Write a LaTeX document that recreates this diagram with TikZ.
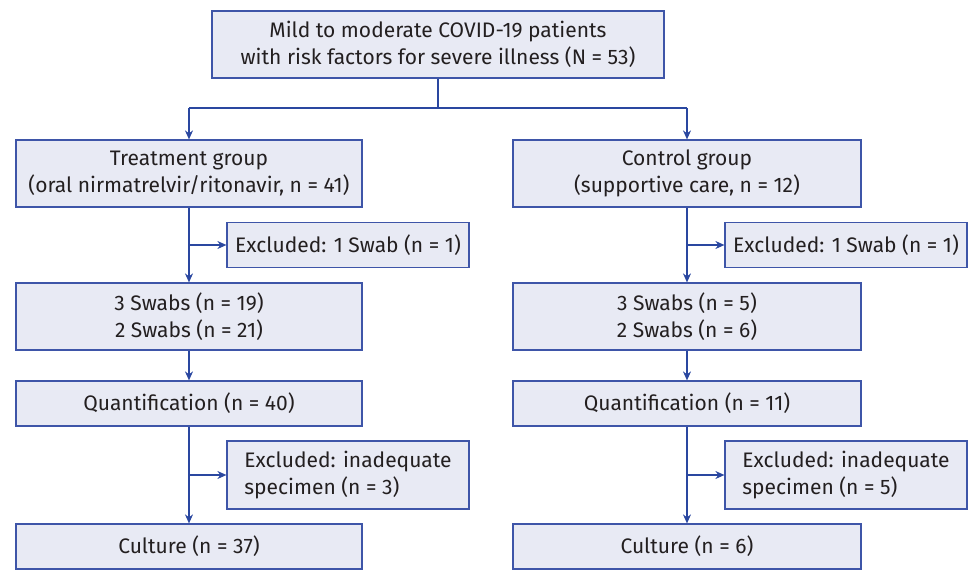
\documentclass[tikz,border=0pt]{standalone}
\usepackage{fontspec}
\setmainfont{Fira Sans}
\usetikzlibrary{arrows.meta}
\definecolor{boxfill}{HTML}{E8EAF4}
\definecolor{boxline}{HTML}{3E55A8}
\definecolor{arrline}{HTML}{2A47A0}
\definecolor{txt}{HTML}{231F20}
\tikzset{
  flowbox/.style={draw=boxline,fill=boxfill,line width=1.2pt,rectangle,align=center,text=txt,inner sep=0pt,
    font=\fontsize{21}{27}\selectfont},
  flowarr/.style={draw=arrline,line width=1.3pt,-{Stealth[length=9pt,width=8pt]}},
  flowline/.style={draw=arrline,line width=1.3pt}
}
\begin{document}
\begin{tikzpicture}[x=1pt,y=-1pt]
\useasboundingbox (0,0) rectangle (975,571);
\node[flowbox,minimum width=452pt,minimum height=67pt] (ALL) at (438,44.5) {Mild to moderate COVID-19 patients\\with risk factors for severe illness (N = 53)};
% treatment arm
\node[flowbox,minimum width=346pt,minimum height=67pt] (TRT) at (189,173.5) {Treatment group\\(oral nirmatrelvir/ritonavir, n = 41)};
\node[flowbox,minimum width=242pt,minimum height=45pt] (TEX1) at (348,245) {Excluded: 1 Swab (n = 1)};
\node[flowbox,minimum width=346pt,minimum height=67pt] (TSW) at (189,316.5) {3 Swabs (n = 19)\\2 Swabs (n = 21)};
\node[flowbox,minimum width=346pt,minimum height=45pt] (TQU) at (189,403.5) {Quantification (n = 40)};
\node[flowbox,minimum width=242pt,minimum height=68pt,align=left] (TEX2) at (348,475) {Excluded: inadequate\\specimen (n = 3)};
\node[flowbox,minimum width=346pt,minimum height=45pt] (TCU) at (189,546.5) {Culture (n = 37)};
% control arm
\node[flowbox,minimum width=348pt,minimum height=67pt] (CTL) at (687,173.5) {Control group\\(supportive care, n = 12)};
\node[flowbox,minimum width=242pt,minimum height=45pt] (CEX1) at (846,245) {Excluded: 1 Swab (n = 1)};
\node[flowbox,minimum width=348pt,minimum height=67pt] (CSW) at (687,316.5) {3 Swabs (n = 5)\\2 Swabs (n = 6)};
\node[flowbox,minimum width=348pt,minimum height=45pt] (CQU) at (687,403.5) {Quantification (n = 11)};
\node[flowbox,minimum width=242pt,minimum height=68pt,align=left] (CEX2) at (846,475) {Excluded: inadequate\\specimen (n = 5)};
\node[flowbox,minimum width=348pt,minimum height=45pt] (CCU) at (687,546.5) {Culture (n = 6)};
% split
\coordinate (SPL) at (438,108);
\coordinate (SPT) at (189,108);
\coordinate (SPC) at (687,108);
\draw[flowline] (ALL.south) -- (SPL);
\draw[flowline] (SPT) -- (SPC);
\draw[flowarr] (SPT) -- (TRT.north);
\draw[flowarr] (SPC) -- (CTL.north);
% left column
\coordinate (TJ1) at (TRT.south |- TEX1.west);
\coordinate (TJ2) at (TQU.south |- TEX2.west);
\draw[flowarr] (TRT.south) -- (TSW.north);
\draw[flowarr] (TJ1) -- (TEX1.west);
\draw[flowarr] (TSW.south) -- (TQU.north);
\draw[flowarr] (TQU.south) -- (TCU.north);
\draw[flowarr] (TJ2) -- (TEX2.west);
% right column
\coordinate (CJ1) at (CTL.south |- CEX1.west);
\coordinate (CJ2) at (CQU.south |- CEX2.west);
\draw[flowarr] (CTL.south) -- (CSW.north);
\draw[flowarr] (CJ1) -- (CEX1.west);
\draw[flowarr] (CSW.south) -- (CQU.north);
\draw[flowarr] (CQU.south) -- (CCU.north);
\draw[flowarr] (CJ2) -- (CEX2.west);
\end{tikzpicture}
\end{document}
